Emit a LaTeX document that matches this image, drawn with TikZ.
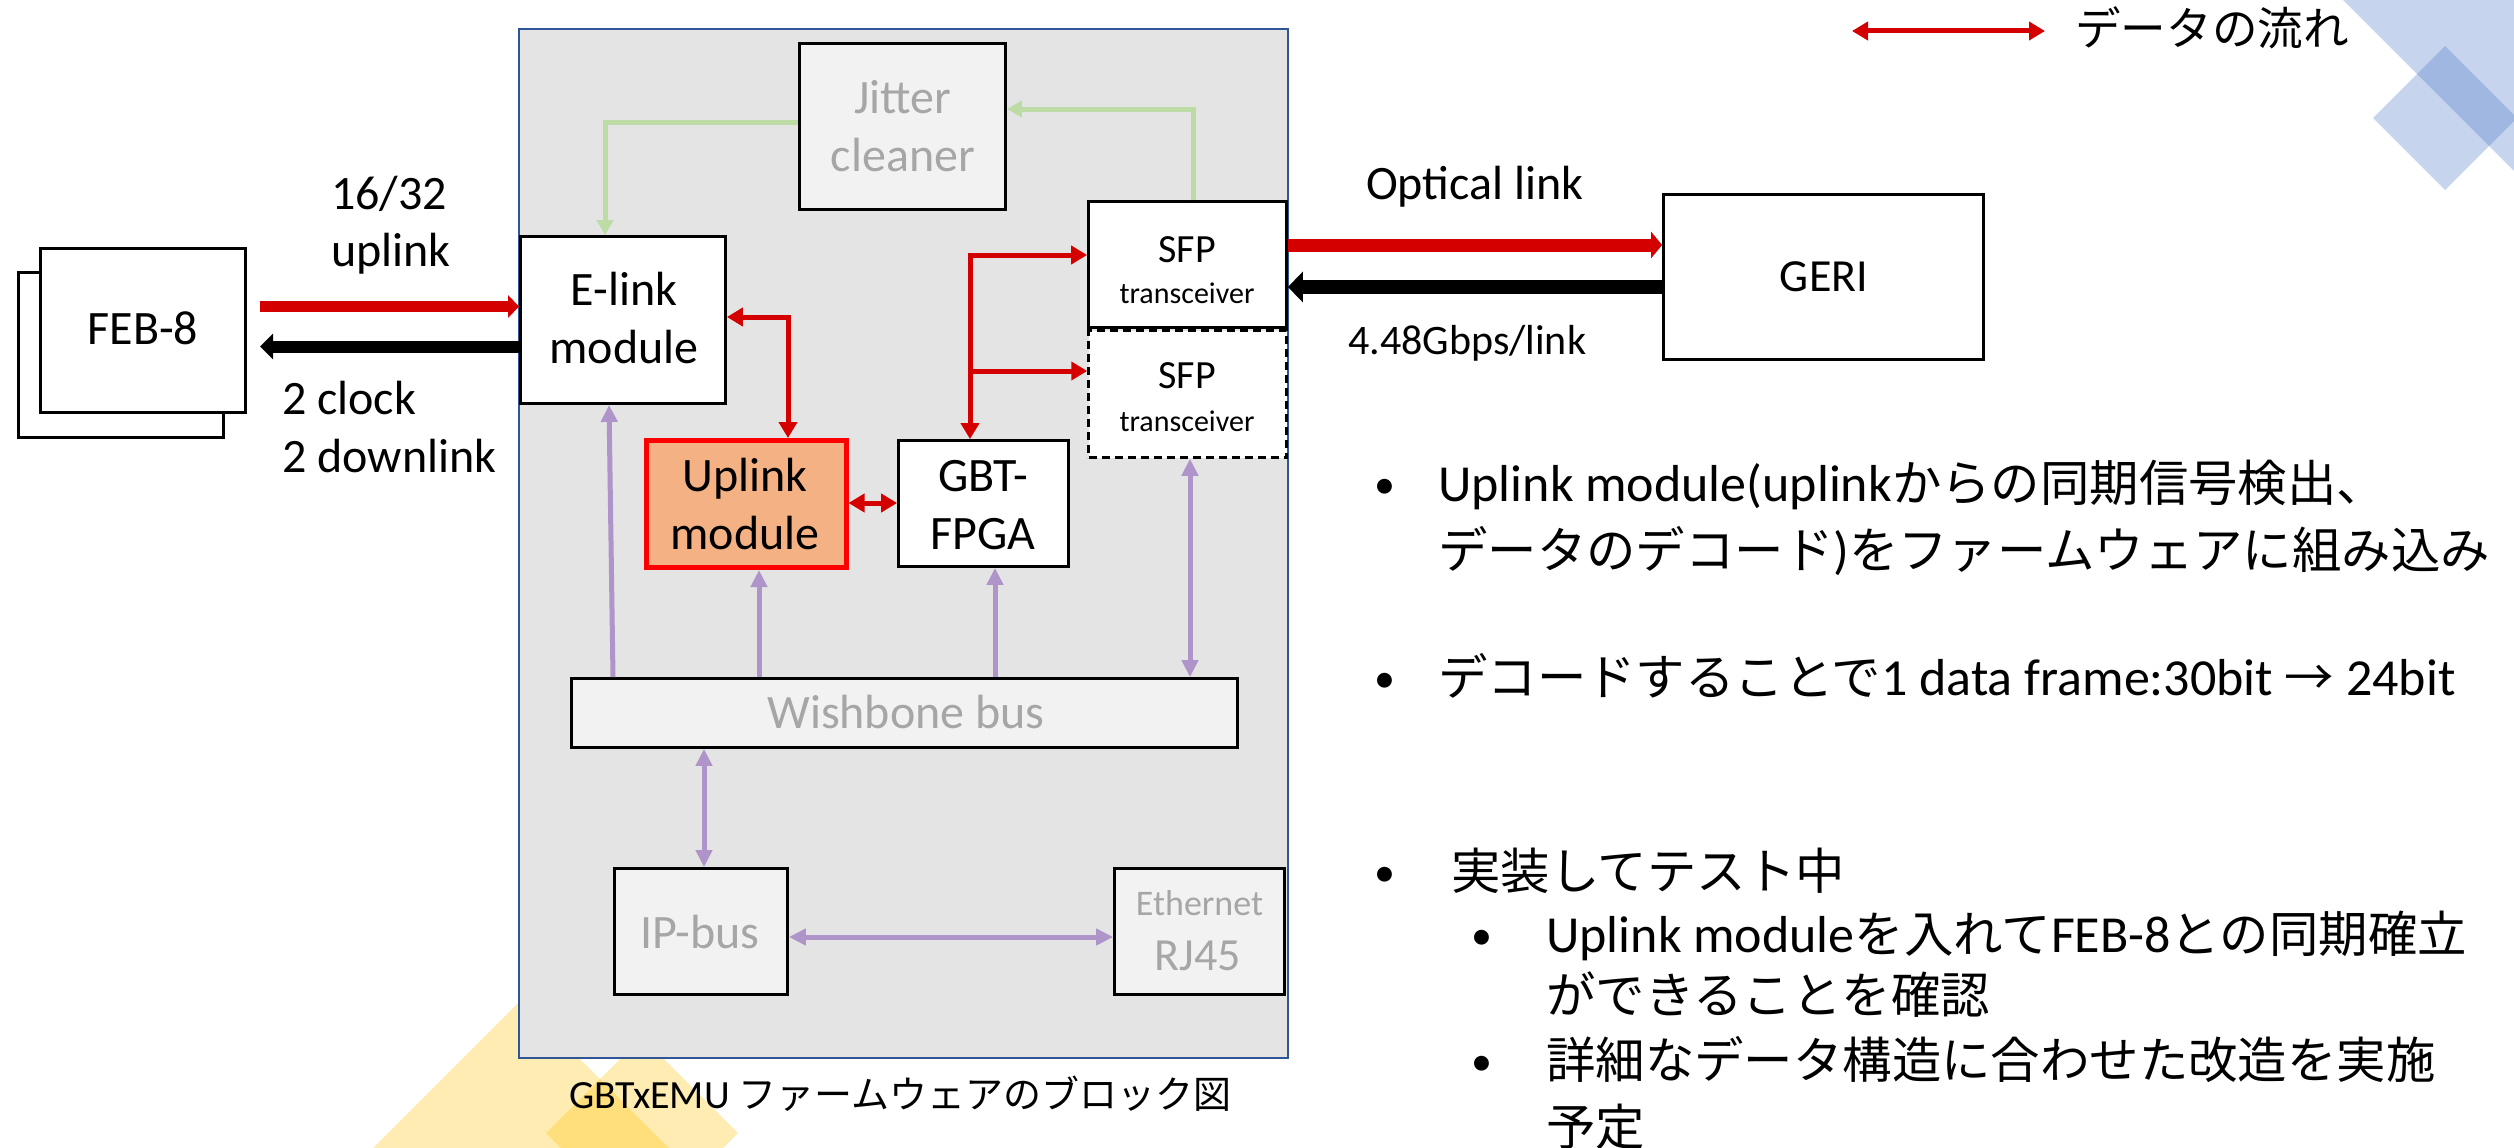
\documentclass[tikz,border=0pt]{standalone}
\usepackage{fontspec}
\setmainfont{Carlito}
\newfontfamily\jp{Noto Sans CJK JP}[Scale=0.95]
\usetikzlibrary{arrows.meta}

\definecolor{emugray}{HTML}{E4E4E4}
\definecolor{emublue}{HTML}{2F5597}
\definecolor{lightbox}{HTML}{F2F2F2}
\definecolor{dimtext}{HTML}{A6A6A6}
\definecolor{flowred}{HTML}{D40000}
\definecolor{uplinkfill}{HTML}{F4B183}
\definecolor{clockgreen}{HTML}{BCDBA5}
\definecolor{buspurple}{HTML}{AF94C9}
\definecolor{decoblue}{HTML}{4472C4}
\definecolor{decoyellow}{HTML}{FFC000}

\newcommand{\fsz}[2]{\fontsize{#1}{#2}\selectfont}

\tikzset{
  redtip/.tip={Triangle[width=18pt,length=16pt]},
  purptip/.tip={Triangle[width=16pt,length=17pt]},
  greentip/.tip={Triangle[width=16pt,length=15pt]},
  box/.style={draw=black, line width=2.8pt, fill=white, inner sep=0pt},
  dimbox/.style={box, fill=lightbox},
  txt/.style={anchor=base, inner sep=0pt, font=\fsz{48}{58}},
  dimtxt/.style={txt, text=dimtext},
  lbl/.style={anchor=base west, inner sep=0pt, font=\fsz{48}{58}},
  bul/.style={anchor=base west, inner sep=0pt, font=\fsz{52}{62}},
  dot/.style={anchor=base, inner sep=0pt, font=\fsz{42}{50}},
  dataflow/.style={draw=flowred, line width=5pt},
  clockline/.style={draw=clockgreen, line width=5pt, arrows={-greentip}},
  busline/.style={draw=buspurple, line width=5pt},
}

\begin{document}
\begin{tikzpicture}[x=1pt, y=-1pt]
\useasboundingbox (0,0) rectangle (2514,1148);

% translucent corner ornaments
\begin{scope}
  \clip (0,0) rectangle (2514,1148);
  \fill[decoyellow, fill opacity=0.3] (521,1000) -- (721,1200) -- (321,1200) -- cycle;
  \fill[decoyellow, fill opacity=0.3] (642,1037) -- (738,1133) -- (642,1229) -- (546,1133) -- cycle;
  \fill[decoblue, fill opacity=0.3] (2343,0) -- (2600,0) -- (2600,257) -- cycle;
  \fill[decoblue, fill opacity=0.3] (2445,46) -- (2517,118) -- (2445,190) -- (2373,118) -- cycle;
\end{scope}

% firmware block
\node[draw=emublue, line width=2pt, fill=emugray, inner sep=0pt,
      minimum width=769pt, minimum height=1028pt] (emu) at (903.5,543.5) {};
\node[anchor=base west, inner sep=0pt, font=\fsz{40}{48}] (caption) at (569,1108)
  {GBTxEMU {\jp ファームウェアのブロック図}};

% front-end boards
\node[box, minimum width=205pt, minimum height=165pt] (febback) at (121,355) {};
\node[box, minimum width=205pt, minimum height=164pt] (feb) at (143,330.5) {};
\node[txt] (febtxt) at (143,344) {FEB-8};

% blocks inside the firmware
\node[box, minimum width=205pt, minimum height=167pt] (elink) at (623,320) {};
\node[txt] (elinkA) at (624,305) {E-link};
\node[txt] (elinkB) at (624,363) {module};

\node[dimbox, minimum width=206pt, minimum height=166pt] (jitter) at (902.5,126.5) {};
\node[dimtxt] (jitterA) at (903,113) {Jitter};
\node[dimtxt] (jitterB) at (903,171) {cleaner};

\node[box, minimum width=198pt, minimum height=126pt] (sfp1) at (1187.5,264.5) {};
\node[box, line width=2.5pt, dash pattern=on 8pt off 5pt,
      minimum width=198pt, minimum height=127pt] (sfp2) at (1187.5,394) {};
\node[txt, font=\fsz{40}{48}] (sfp1A) at (1187,262) {SFP};
\node[txt, font=\fsz{30}{36}] (sfp1B) at (1187,303) {transceiver};
\node[txt, font=\fsz{40}{48}] (sfp2A) at (1187,388) {SFP};
\node[txt, font=\fsz{30}{36}] (sfp2B) at (1187,431) {transceiver};

\node[box, draw=red, line width=5pt, fill=uplinkfill,
      minimum width=200pt, minimum height=127pt] (uplink) at (746,504) {};
\node[txt] (uplinkA) at (745,491) {Uplink};
\node[txt] (uplinkB) at (745,549) {module};

\node[box, minimum width=170pt, minimum height=126pt] (gbt) at (983.5,503.5) {};
\node[txt] (gbtA) at (983,491) {GBT-};
\node[txt] (gbtB) at (983,549) {FPGA};

\node[dimbox, minimum width=666pt, minimum height=69pt] (wb) at (904.5,713) {};
\node[dimtxt] (wbtxt) at (906,728) {Wishbone bus};

\node[dimbox, minimum width=173pt, minimum height=126pt] (ipbus) at (701,931.5) {};
\node[dimtxt] (iptxt) at (700,948) {IP-bus};

\node[dimbox, minimum width=170pt, minimum height=126pt] (eth) at (1199.5,931.5) {};
\node[dimtxt, font=\fsz{36}{44}] (ethA) at (1199.5,915) {Ethernet};
\node[dimtxt, font=\fsz{46}{54}] (ethB) at (1198,970) {RJ45};

% back end
\node[box, minimum width=320pt, minimum height=165pt] (geri) at (1823.5,277) {};
\node[txt, font=\fsz{46}{54}] (geritxt) at (1824,291) {GERI};

% links to the front-end boards
\coordinate (febup) at (260,306.5);
\draw[draw=flowred, line width=10.5pt, arrows={-Triangle[width=22pt,length=11pt]}]
  (febup) -- (febup -| elink.west);
\coordinate (febdn) at (260,346.5);
\draw[draw=black, line width=12pt, arrows={Triangle[width=25pt,length=13pt]-}]
  (febdn) -- (febdn -| elink.west);
\node[lbl] (lbl1632) at (331,209) {16/32};
\node[lbl] (lbluplink) at (331,266) {uplink};
\node[lbl] (lblclock) at (282,414.5) {2 clock};
\node[lbl] (lbldown) at (282,472) {2 downlink};

% optical link
\coordinate (optup) at (1288,245);
\draw[draw=flowred, line width=13pt, arrows={-Triangle[width=26pt,length=11pt]}]
  (optup -| sfp1.east) -- (optup -| geri.west);
\coordinate (optdn) at (1288,287);
\draw[draw=black, line width=14pt, arrows={Triangle[width=30pt,length=15pt]-}]
  (optdn -| sfp1.east) -- (optdn -| geri.west);
\node[lbl] (lblopt) at (1366,199) {Optical link};
\node[lbl, font=\fsz{42}{50}] (lblrate) at (1348,354) {4.48Gbps/link};

% recovered clock
\coordinate (gA) at (605,122.5);
\draw[clockline] (gA -| jitter.west) -- (gA) -- (gA |- elink.north);
\coordinate (gB) at (1193,109);
\draw[clockline] (gB |- sfp1.north) -- (gB) -- (gB -| jitter.east);

% data paths
\coordinate (rA) at (788,317);
\draw[dataflow, arrows={redtip-redtip}] (rA -| elink.east) -- (rA) -- (rA |- uplink.north);
\coordinate (rB) at (970,255);
\draw[dataflow, arrows={redtip-redtip}] (rB -| sfp1.west) -- (rB) -- (rB |- gbt.north);
\coordinate (rC) at (970,371);
\draw[dataflow, arrows={-redtip}] (rC) -- (rC -| sfp2.west);
\coordinate (rD) at (0,503);
\draw[dataflow, arrows={redtip-redtip}] (rD -| uplink.east) -- (rD -| gbt.west);

% wishbone connections
\coordinate (pA) at (613,0);
\coordinate (pA2) at (609,0);
\draw[busline, arrows={-purptip}] (pA |- wb.north) -- (pA2 |- elink.south);
\coordinate (pB) at (759,0);
\draw[busline, arrows={-purptip}] (pB |- wb.north) -- (pB |- uplink.south);
\coordinate (pC) at (995,0);
\draw[busline, arrows={-purptip}] (pC |- wb.north) -- (pC |- gbt.south);
\coordinate (pD) at (1190,0);
\draw[busline, arrows={purptip-purptip}] (pD |- wb.north) -- (pD |- sfp2.south);
\coordinate (pE) at (704,0);
\draw[busline, arrows={purptip-purptip}] (pE |- wb.south) -- (pE |- ipbus.north);
\coordinate (pF) at (0,937);
\draw[busline, arrows={purptip-purptip}] (pF -| ipbus.east) -- (pF -| eth.west);

% legend
\coordinate (legA) at (1852,31);
\coordinate (legB) at (2045,31);
\draw[dataflow, arrows={redtip-redtip}] (legA) -- (legB);
\node[anchor=base west, inner sep=0pt, font=\fsz{48}{58}] (legtxt) at (2075,46) {\jp データの流れ};

% notes
\node[dot] (b1) at (1385,498) {•};
\node[bul] (t1a) at (1438,501) {Uplink module(uplink{\jp からの同期信号検出、}};
\node[bul] (t1b) at (1438,568) {{\jp データのデコード}){\jp をファームウェアに組み込み}};
\node[dot] (b2) at (1385,692) {•};
\node[bul] (t2) at (1438,695) {{\jp デコードすることで}1 data frame:30bit {\jp →} 24bit};
\node[dot] (b3) at (1385,886) {•};
\node[bul] (t3) at (1451,889) {\jp 実装してテスト中};
\node[dot] (b3a) at (1482,949) {•};
\node[bul] (t3a1) at (1546,952) {Uplink module{\jp を入れて}FEB-8{\jp との同期確立}};
\node[bul] (t3a2) at (1546,1013) {\jp ができることを確認};
\node[dot] (b3b) at (1482,1075) {•};
\node[bul] (t3b1) at (1546,1078) {\jp 詳細なデータ構造に合わせた改造を実施};
\node[bul] (t3b2) at (1546,1145) {\jp 予定};
\end{tikzpicture}
\end{document}
